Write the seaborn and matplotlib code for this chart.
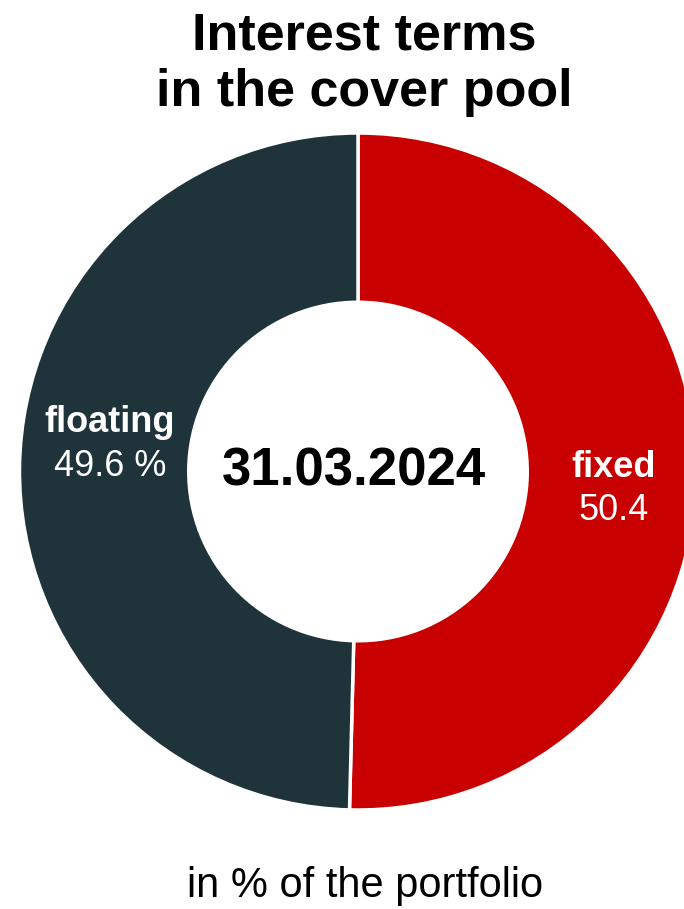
import numpy as np
import seaborn as sns
import matplotlib.pyplot as plt

# data
categories = ["fixed", "floating"]
shares = [50.4, 49.6]
value_labels = ["50.4", "49.6 %"]
colors = ["#C80000", "#1F333B"]
title = "Interest terms\nin the cover pool"
date_label = "31.03.2024"
footnote = "in % of the portfolio"

sns.set_style("white")
plt.rcParams['font.family'] = ['Liberation Sans', 'DejaVu Sans']
plt.rcParams['text.color'] = 'black'

fig = plt.figure(figsize=(6.84, 9.09), dpi=100)
# donut centre at (358, 471) px, radius ~338 px
W, H = 684, 909
cx, cy, r = 358, 471.5, 338.5
ax = fig.add_axes([(cx - r) / W, (H - cy - r) / H, 2 * r / W, 2 * r / H])

wedges, _ = ax.pie(shares, colors=colors, startangle=90, counterclock=False,
                   radius=1.0,
                   wedgeprops=dict(width=0.5, edgecolor="white", linewidth=2.5))
for w in wedges:
    w.set_clip_on(False)
ax.set_xlim(-1, 1)
ax.set_ylim(-1, 1)
ax.set_aspect("equal")
ax.axis("off")

# segment labels
ax.text(0.756, 0.013, categories[0], color="white", fontsize=26, fontweight="bold",
        ha="center", va="center")
ax.text(0.756, -0.114, value_labels[0], color="white", fontsize=26,
        ha="center", va="center")
ax.text(-0.733, 0.146, categories[1], color="white", fontsize=26, fontweight="bold",
        ha="center", va="center")
ax.text(-0.733, 0.016, value_labels[1], color="white", fontsize=26,
        ha="center", va="center")

ax.text(-0.012, 0.0, date_label, color="black", fontsize=38, fontweight="bold",
        ha="center", va="center")

fig.text(364 / W, 1 - 64 / H, title, ha="center", va="center", fontsize=37.5,
         fontweight="bold", linespacing=1.2, color="black")
fig.text(365 / W, 1 - 886 / H, footnote, ha="center", va="center", fontsize=30,
         color="black")

fig.savefig("out.png", dpi=100)
